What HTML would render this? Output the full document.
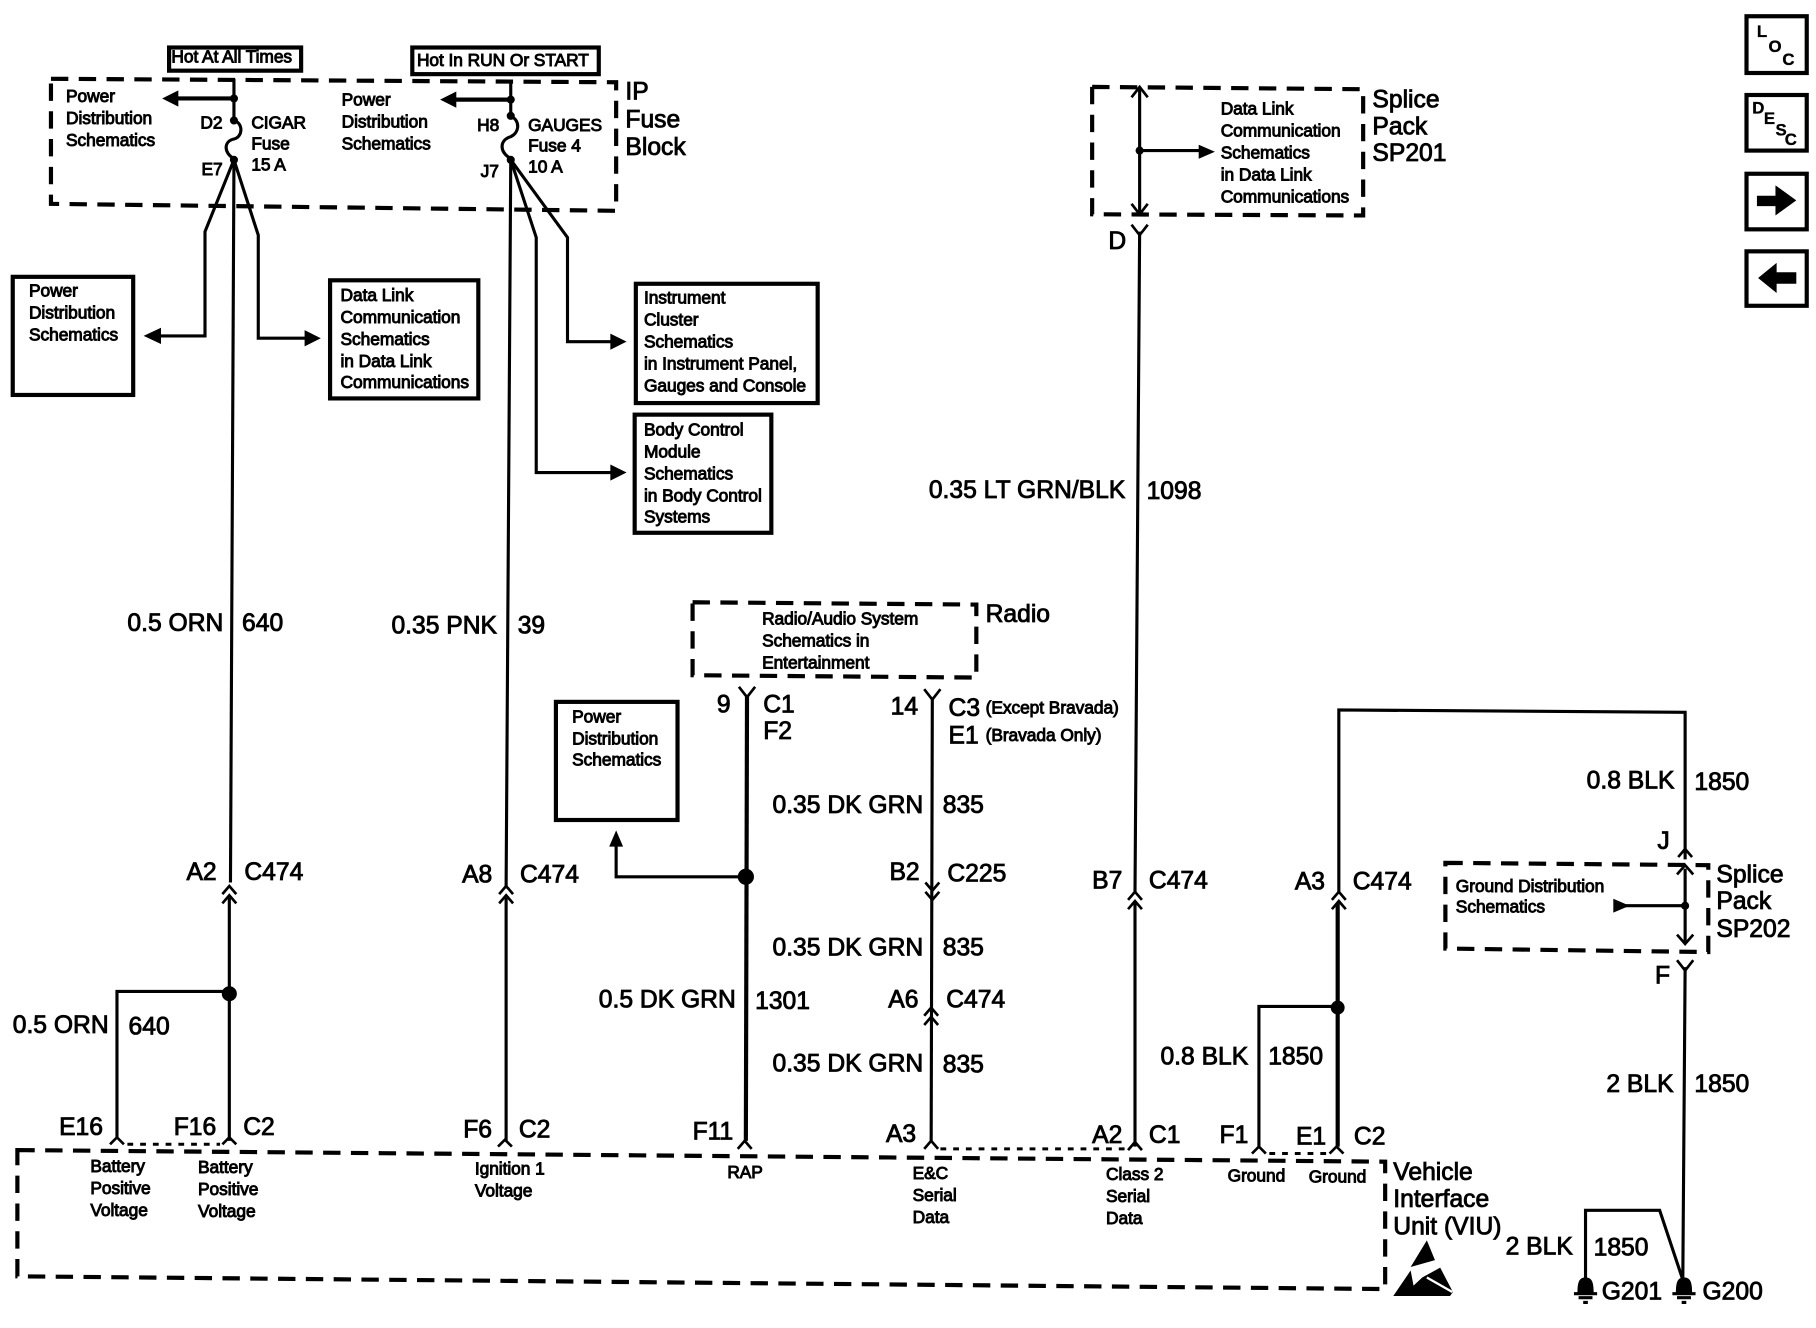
<!DOCTYPE html>
<html><head><meta charset="utf-8"><style>
html,body{margin:0;padding:0;background:#fff}
svg{display:block}
text{font-family:"Liberation Sans",sans-serif;fill:#000;stroke:#000}
.b{font-size:21.3px;stroke-width:.75px}
.s{font-size:15px;stroke-width:.8px;letter-spacing:-.05px}
.i{font-size:14.5px;font-weight:bold;stroke-width:.3px}
.w{fill:none;stroke:#000;stroke-width:2.7}
.t{fill:none;stroke:#000;stroke-width:3.6}
.d{fill:none;stroke:#000;stroke-width:3.6;stroke-dasharray:15 9}
.o{fill:none;stroke:#000;stroke-width:2.6;stroke-dasharray:5 6}
.c{fill:none;stroke:#000;stroke-width:2.3}
.f{fill:#000;stroke:none}
</style></head><body>
<svg xmlns="http://www.w3.org/2000/svg" width="1816" height="1328" viewBox="0 0 1568 1146.6">
<rect width="1568" height="1147" fill="#fff"/>
<!-- dashed enclosures -->
<path class="d" d="M44 68L532 71L532 182L44 176Z"/>
<path class="d" d="M943 75L1177 77L1177 186L943 185Z"/>
<path class="d" d="M598 520L843 522L843 585L598 583Z"/>
<path class="d" d="M1248 745L1475 747L1475 822L1248 819Z"/>
<path class="d" d="M15 993L1196 1003L1196 1113L15 1102Z"/>
<!-- solid boxes -->
<rect class="t" x="146" y="41" width="114" height="20"/>
<rect class="t" x="356" y="41" width="161" height="23"/>
<rect class="t" x="11" y="239" width="104" height="102"/>
<rect class="t" x="285" y="242" width="128" height="102"/>
<rect class="t" x="549" y="245" width="157" height="103"/>
<rect class="t" x="548" y="358" width="118" height="102"/>
<rect class="t" x="480" y="606" width="105" height="102"/>
<rect class="t" x="1508" y="14" width="52" height="49"/>
<rect class="t" x="1508" y="82" width="52" height="48"/>
<rect class="t" x="1508" y="150" width="52" height="48"/>
<rect class="t" x="1508" y="217" width="52" height="47"/>
<path class="f" d="M1517 169H1533V160L1551 173L1533 186V178H1517Z"/>
<path class="f" d="M1551 235H1534V227L1518 240L1534 253V245H1551Z"/>
<!-- wire 1 -->
<path class="w" d="M202 68V104C210 106 210 118 202 120C193 122 193 132 202 137"/>
<path class="w" d="M202 138L199 762M198 775V985"/>
<path class="t" d="M202 85H150"/><path class="f" d="M140 85L154 78V92Z"/>
<circle class="f" cx="202" cy="85" r="3.5"/><circle class="f" cx="202" cy="104" r="3.5"/><circle class="f" cx="202" cy="138" r="3.5"/>
<path class="w" d="M202 138L177 200V290H135"/><path class="f" d="M124 290L139 283V297Z"/>
<path class="w" d="M202 138L223 203V292H264"/><path class="f" d="M277 292L263 285V299Z"/>
<path class="c" d="M192 772L198 765L204 772M192 780L198 773L204 780"/>
<circle class="f" cx="198" cy="858" r="6.5"/>
<path class="w" d="M198 856H101V982"/>
<path class="c" d="M95 988L101 982L107 988M192 988L198 982L204 988"/>
<path class="o" d="M110 988H190"/>
<!-- wire 2 -->
<path class="w" d="M441 71V100C449 104 449 114 441 118C431 121 431 131 441 137"/>
<path class="w" d="M441 138L437 765M437 775V985"/>
<path class="t" d="M441 86H390"/><path class="f" d="M380 86L394 79V93Z"/>
<circle class="f" cx="441" cy="86" r="3.5"/><circle class="f" cx="441" cy="100" r="3.5"/><circle class="f" cx="441" cy="138" r="3.5"/>
<path class="w" d="M441 138L463 205V408H528"/><path class="f" d="M541 408L527 401V415Z"/>
<path class="w" d="M441 138L490 205V295H528"/><path class="f" d="M541 295L527 288V302Z"/>
<path class="c" d="M431 772L437 765L443 772M431 780L437 773L443 780M430 990L436 984L442 990"/>
<!-- wire 9 -->
<path class="c" d="M638 593L645 602L652 593"/>
<path class="t" d="M645 600L644 985"/>
<circle class="f" cx="644" cy="757" r="7"/>
<path class="w" d="M644 757H532V728"/><path class="f" d="M532 717L526 731H538Z"/>
<path class="c" d="M637 992L643 985L649 992"/>
<!-- wire 14 -->
<path class="c" d="M798 595L805 604L812 595"/>
<path class="w" d="M805 602L804 985"/>
<path class="c" d="M799 762L805 769L811 762M799 770L805 777L811 770M798 877L804 870L810 877M798 885L804 878L810 885M798 992L804 985L810 992"/>
<path class="o" d="M812 992H972"/>
<!-- wire D -->
<path class="w" d="M984 76V184"/>
<path class="c" d="M977 84L984 75L991 84M977 176L984 185L991 176M977 194L984 203L991 194"/>
<path class="w" d="M984 130H1036"/><circle class="f" cx="984" cy="130" r="3.5"/><path class="f" d="M1049 131L1035 125V137Z"/>
<path class="w" d="M984 200L980 770M980 780V990"/>
<path class="c" d="M974 777L980 770L986 777M974 785L980 778L986 785M974 993L980 986L986 993"/>
<!-- wire 1850 -->
<path class="w" d="M1156 770V613L1455 615V742"/>
<path class="c" d="M1150 777L1156 770L1162 777M1150 785L1156 778L1162 785M1449 740L1455 733L1461 740"/>
<path class="t" d="M1155 780V990"/>
<circle class="f" cx="1155" cy="870" r="6"/>
<path class="w" d="M1155 869H1087V990"/>
<path class="c" d="M1081 996L1087 990L1093 996M1148 996L1154 990L1160 996"/>
<path class="o" d="M1096 996H1146"/>
<path class="w" d="M1455 750V815"/>
<path class="c" d="M1448 755L1455 747L1462 755M1448 807L1455 815L1462 807M1448 829L1455 838L1462 829"/>
<path class="w" d="M1455 782H1400"/><circle class="f" cx="1455" cy="782" r="3.5"/><path class="f" d="M1393 776L1407 782L1393 788Z"/>
<path class="w" d="M1455 835L1453 1105"/>
<path class="w" d="M1369 1105V1045H1433L1453 1105"/>
<!-- grounds -->
<g id="g"><path class="f" d="M1362 1116C1362 1106 1364 1103 1369 1103C1374 1103 1376 1106 1376 1116Z"/><path class="w" d="M1359 1117H1379M1363 1120.5H1375M1367 1124.5H1371"/></g>
<use href="#g" x="85"/>
<!-- ESD symbol -->
<path class="f" d="M1232 1071L1218 1094L1239 1088Z"/>
<path class="f" d="M1203 1119L1218 1097L1220.5 1110L1228 1103L1243.5 1094.5L1254.5 1115.5L1252 1119Z"/>
<path fill="none" stroke="#fff" stroke-width="2" d="M1232 1103L1254 1115.5"/>
<!-- big labels -->
<g class="b">
<text x="540" y="86">IP</text><text x="540" y="110">Fuse</text><text x="540" y="134">Block</text>
<text x="1185" y="93">Splice</text><text x="1185" y="116">Pack</text><text x="1185" y="139">SP201</text>
<text x="851" y="537">Radio</text>
<text x="1482" y="762">Splice</text><text x="1482" y="785">Pack</text><text x="1482" y="809">SP202</text>
<text x="1203" y="1019">Vehicle</text><text x="1203" y="1042">Interface</text><text x="1203" y="1066">Unit (VIU)</text>
<text x="957" y="215">D</text><text x="1431" y="733">J</text><text x="1429" y="849">F</text>
<text x="110" y="545">0.5 ORN</text><text x="209" y="545">640</text>
<text x="338" y="547">0.35 PNK</text><text x="447" y="547">39</text>
<text x="802" y="430">0.35 LT GRN/BLK</text><text x="990" y="431">1098</text>
<text x="161" y="760">A2</text><text x="211" y="760">C474</text>
<text x="399" y="762">A8</text><text x="449" y="762">C474</text>
<text x="11" y="892">0.5 ORN</text><text x="111" y="893">640</text>
<text x="51" y="980">E16</text><text x="150" y="980">F16</text><text x="210" y="980">C2</text>
<text x="400" y="982">F6</text><text x="448" y="982">C2</text>
<text x="598" y="984">F11</text><text x="765" y="986">A3</text>
<text x="943" y="987">A2</text><text x="992" y="987">C1</text>
<text x="1053" y="987">F1</text><text x="1119" y="988">E1</text><text x="1169" y="988">C2</text>
<text x="619" y="615">9</text><text x="659" y="615">C1</text><text x="659" y="638">F2</text>
<text x="769" y="617">14</text><text x="819" y="618">C3</text><text x="819" y="642">E1</text>
<text x="667" y="702">0.35 DK GRN</text><text x="814" y="702">835</text>
<text x="768" y="760">B2</text><text x="818" y="761">C225</text>
<text x="667" y="825">0.35 DK GRN</text><text x="814" y="825">835</text>
<text x="517" y="870">0.5 DK GRN</text><text x="652" y="871">1301</text>
<text x="767" y="870">A6</text><text x="817" y="870">C474</text>
<text x="667" y="925">0.35 DK GRN</text><text x="814" y="926">835</text>
<text x="943" y="767">B7</text><text x="992" y="767">C474</text>
<text x="1118" y="768">A3</text><text x="1168" y="768">C474</text>
<text x="1002" y="919">0.8 BLK</text><text x="1095" y="919">1850</text>
<text x="1370" y="681">0.8 BLK</text><text x="1463" y="682">1850</text>
<text x="1387" y="943">2 BLK</text><text x="1463" y="943">1850</text>
<text x="1300" y="1083">2 BLK</text><text x="1376" y="1084">1850</text>
<text x="1383" y="1122">G201</text><text x="1470" y="1122">G200</text>
</g>
<!-- small labels -->
<g class="s">
<text x="148" y="54">Hot At All Times</text>
<text x="360" y="57">Hot In RUN Or START</text>
<text x="57" y="88">Power</text><text x="57" y="107">Distribution</text><text x="57" y="126">Schematics</text>
<text x="173" y="111">D2</text><text x="174" y="151">E7</text>
<text x="217" y="111">CIGAR</text><text x="217" y="129">Fuse</text><text x="217" y="147">15 A</text>
<text x="295" y="91">Power</text><text x="295" y="110">Distribution</text><text x="295" y="129">Schematics</text>
<text x="412" y="113">H8</text><text x="415" y="153">J7</text>
<text x="456" y="113">GAUGES</text><text x="456" y="131">Fuse 4</text><text x="456" y="149">10 A</text>
<text x="25" y="256">Power</text><text x="25" y="275">Distribution</text><text x="25" y="294">Schematics</text>
<text x="294" y="260">Data Link</text><text x="294" y="279">Communication</text><text x="294" y="298">Schematics</text><text x="294" y="317">in Data Link</text><text x="294" y="335">Communications</text>
<text x="556" y="262">Instrument</text><text x="556" y="281">Cluster</text><text x="556" y="300">Schematics</text><text x="556" y="319">in Instrument Panel,</text><text x="556" y="338">Gauges and Console</text>
<text x="556" y="376">Body Control</text><text x="556" y="395">Module</text><text x="556" y="414">Schematics</text><text x="556" y="433">in Body Control</text><text x="556" y="451">Systems</text>
<text x="494" y="624">Power</text><text x="494" y="643">Distribution</text><text x="494" y="661">Schematics</text>
<text x="658" y="539">Radio/Audio System</text><text x="658" y="558">Schematics in</text><text x="658" y="577">Entertainment</text>
<text x="1054" y="99">Data Link</text><text x="1054" y="118">Communication</text><text x="1054" y="137">Schematics</text><text x="1054" y="156">in Data Link</text><text x="1054" y="175">Communications</text>
<text x="1257" y="770">Ground Distribution</text><text x="1257" y="788">Schematics</text>
<text x="851" y="616">(Except Bravada)</text><text x="851" y="640">(Bravada Only)</text>
<text x="78" y="1012">Battery</text><text x="78" y="1031">Positive</text><text x="78" y="1050">Voltage</text>
<text x="171" y="1013">Battery</text><text x="171" y="1032">Positive</text><text x="171" y="1051">Voltage</text>
<text x="410" y="1014">Ignition 1</text><text x="410" y="1033">Voltage</text>
<text x="628" y="1017">RAP</text>
<text x="788" y="1018">E&amp;C</text><text x="788" y="1037">Serial</text><text x="788" y="1056">Data</text>
<text x="955" y="1019">Class 2</text><text x="955" y="1038">Serial</text><text x="955" y="1057">Data</text>
<text x="1060" y="1020">Ground</text><text x="1130" y="1021">Ground</text>
</g>
<!-- icon letters -->
<g class="i">
<text x="1517" y="32">L</text><text x="1527" y="45">O</text><text x="1539" y="56">C</text>
<text x="1513" y="98">D</text><text x="1523" y="107">E</text><text x="1533" y="117">S</text><text x="1541" y="125">C</text>
</g>
</svg>
</body></html>
